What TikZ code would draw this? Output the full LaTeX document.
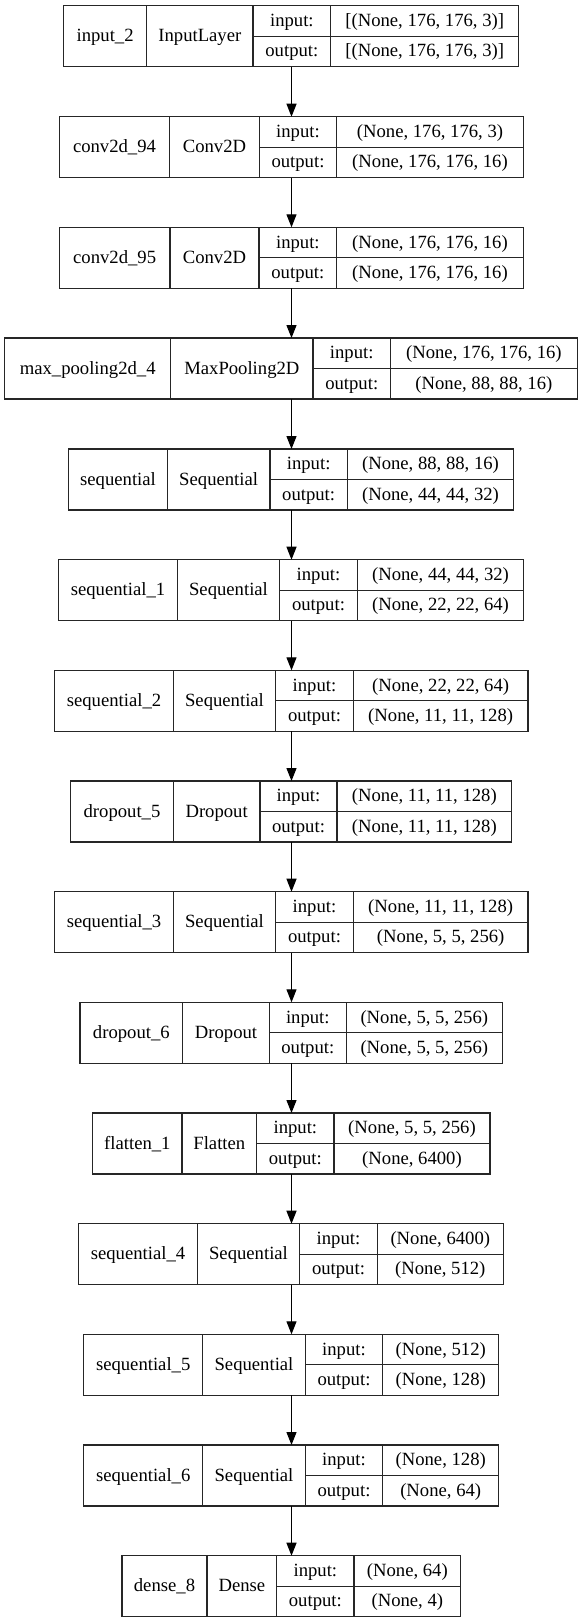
\documentclass[tikz,border=0pt]{standalone}
\usepackage{fontspec}
\setmainfont{Liberation Serif}
\usetikzlibrary{arrows.meta}
\tikzset{
  layerbox/.style={draw=black!85, line width=1.1pt, anchor=north west, minimum height=61pt, inner sep=0pt, outer sep=0pt},
  cellline/.style={draw=black!85, line width=1.1pt},
  ktxt/.style={anchor=base, inner sep=0pt, font=\fontsize{18.67}{22}\selectfont},
  karrow/.style={draw=black, line width=1.2pt, -{Triangle[length=13pt,width=10pt]}}
}
\def\kparse#1,#2,#3,#4,#5\relax{\def\xa{#1}\def\xb{#2}\def\xc{#3}\def\xd{#4}\def\xe{#5}}
\newcommand\kbox[7]{%
  \kparse#3\relax
  \pgfmathsetmacro\kb{#2+61}%
  \pgfmathsetmacro\kmid{#2+30.5}%
  \pgfmathsetmacro\kw{\xe-\xa}%
  \pgfmathsetmacro\yA{#2+30.5+5.5}%
  \pgfmathsetmacro\yI{#2+15.25+5.5}%
  \pgfmathsetmacro\yO{#2+45.75+5.5}%
  \node[layerbox, minimum width=\kw pt] (#1) at (\xa,#2) {};
  \draw[cellline] (\xb,#2) -- (\xb,\kb);
  \draw[cellline] (\xc,#2) -- (\xc,\kb);
  \draw[cellline] (\xd,#2) -- (\xd,\kb);
  \draw[cellline] (\xc,\kmid) -- (\xe,\kmid);
  \node[ktxt] (#1-name) at ({(\xa+\xb)/2},\yA) {#4};
  \node[ktxt] (#1-type) at ({(\xb+\xc)/2},\yA) {#5};
  \node[ktxt] (#1-inl) at ({(\xc+\xd)/2},\yI) {input:};
  \node[ktxt] (#1-outl) at ({(\xc+\xd)/2},\yO) {output:};
  \node[ktxt] (#1-inv) at ({(\xd+\xe)/2},\yI) {#6};
  \node[ktxt] (#1-outv) at ({(\xd+\xe)/2},\yO) {#7};
}
\begin{document}
\begin{tikzpicture}[x=1pt,y=-1pt]
\useasboundingbox[fill=white] (0,0) rectangle (583,1623);
\coordinate (ax) at (291.5,0);
\kbox{L1}{5.7}{63.5,146.7,253,330.7,518.7}{input\_2}{InputLayer}{[(None, 176, 176, 3)]}{[(None, 176, 176, 3)]}
\kbox{L2}{116.7}{59.3,169.7,259.3,336.7,523.3}{conv2d\_94}{Conv2D}{(None, 176, 176, 3)}{(None, 176, 176, 16)}
\kbox{L3}{227.3}{59.3,170,259,336.7,523.3}{conv2d\_95}{Conv2D}{(None, 176, 176, 16)}{(None, 176, 176, 16)}
\kbox{L4}{338}{4.7,170.7,313,390.5,577.3}{max\_pooling2d\_4}{MaxPooling2D}{(None, 176, 176, 16)}{(None, 88, 88, 16)}
\kbox{L5}{449}{68.7,167.3,270,347.3,513.7}{sequential}{Sequential}{(None, 88, 88, 16)}{(None, 44, 44, 32)}
\kbox{L6}{559.7}{58.7,177.3,279.7,357.3,523.7}{sequential\_1}{Sequential}{(None, 44, 44, 32)}{(None, 22, 22, 64)}
\kbox{L7}{670.3}{54.7,173.3,275.7,353.3,528}{sequential\_2}{Sequential}{(None, 22, 22, 64)}{(None, 11, 11, 128)}
\kbox{L8}{781}{70.7,173.3,260,337,511.7}{dropout\_5}{Dropout}{(None, 11, 11, 128)}{(None, 11, 11, 128)}
\kbox{L9}{891.7}{54.7,173.3,275.7,353.3,528}{sequential\_3}{Sequential}{(None, 11, 11, 128)}{(None, 5, 5, 256)}
\kbox{L10}{1002.3}{80,182.7,269.3,346.3,502.3}{dropout\_6}{Dropout}{(None, 5, 5, 256)}{(None, 5, 5, 256)}
\kbox{L11}{1113}{92.7,182,256.7,334,490}{flatten\_1}{Flatten}{(None, 5, 5, 256)}{(None, 6400)}
\kbox{L12}{1223.7}{78.7,197.3,299.7,377.3,503.3}{sequential\_4}{Sequential}{(None, 6400)}{(None, 512)}
\kbox{L13}{1334.3}{83.7,202.7,305.3,382.7,498.7}{sequential\_5}{Sequential}{(None, 512)}{(None, 128)}
\kbox{L14}{1445}{83.7,202.7,305.3,382.7,498.7}{sequential\_6}{Sequential}{(None, 128)}{(None, 64)}
\kbox{L15}{1555.7}{122,207,276.7,354,460.7}{dense\_8}{Dense}{(None, 64)}{(None, 4)}
\foreach \a/\b in {L1/L2,L2/L3,L3/L4,L4/L5,L5/L6,L6/L7,L7/L8,L8/L9,L9/L10,L10/L11,L11/L12,L12/L13,L13/L14,L14/L15}
  \draw[karrow] (\a.south -| ax) -- (\b.north -| ax);
\end{tikzpicture}
\end{document}
